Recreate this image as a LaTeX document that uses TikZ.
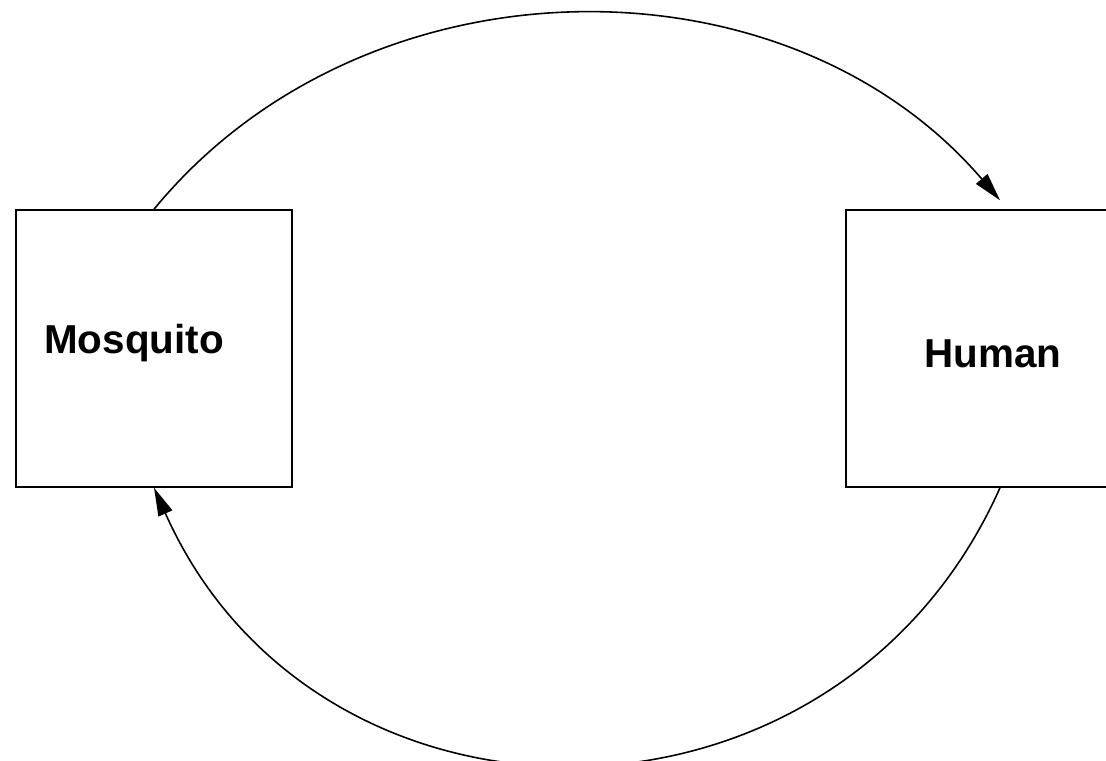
\documentclass[tikz,border=0pt]{standalone}
\usepackage{fontspec}
\setmainfont{Liberation Sans}
\usetikzlibrary{arrows.meta, positioning}
\tikzset{
    hostbox/.style={rectangle, draw=black, line width=0.9pt, minimum height=5.54cm, inner sep=0pt},
    hostlabel/.style={font=\fontsize{23}{28}\selectfont\bfseries},
    cycle/.style={line width=0.9pt, -{Triangle[length=16pt, width=8.5pt]}}
}
\begin{document}
\begin{tikzpicture}[x=0.02cm, y=-0.02cm]
        \useasboundingbox (0,0) rectangle (1106,761);
        \clip (0,0) rectangle (1106,761);
        % Hosts
        \node (mosquito) [hostbox, minimum width=5.52cm] at (154,348.5) {};
        \node (human) [hostbox, minimum width=6.16cm] at (1000,348.5) {};
        \node (mosquitoText) [hostlabel] at ([xshift=-0.4cm, yshift=0.1cm]mosquito.center) {Mosquito};
        \node (humanText) [hostlabel] at ([xshift=-0.14cm, yshift=-0.1cm]human.center) {Human};

        % Transmission
        \draw [cycle] (mosquito.north) to[bend left=50, looseness=1.0] ([yshift=0.18cm]human.north);
        \draw [cycle] (human.south) to[bend left=66, looseness=1.22] (mosquito.south);
    \end{tikzpicture}
\end{document}
